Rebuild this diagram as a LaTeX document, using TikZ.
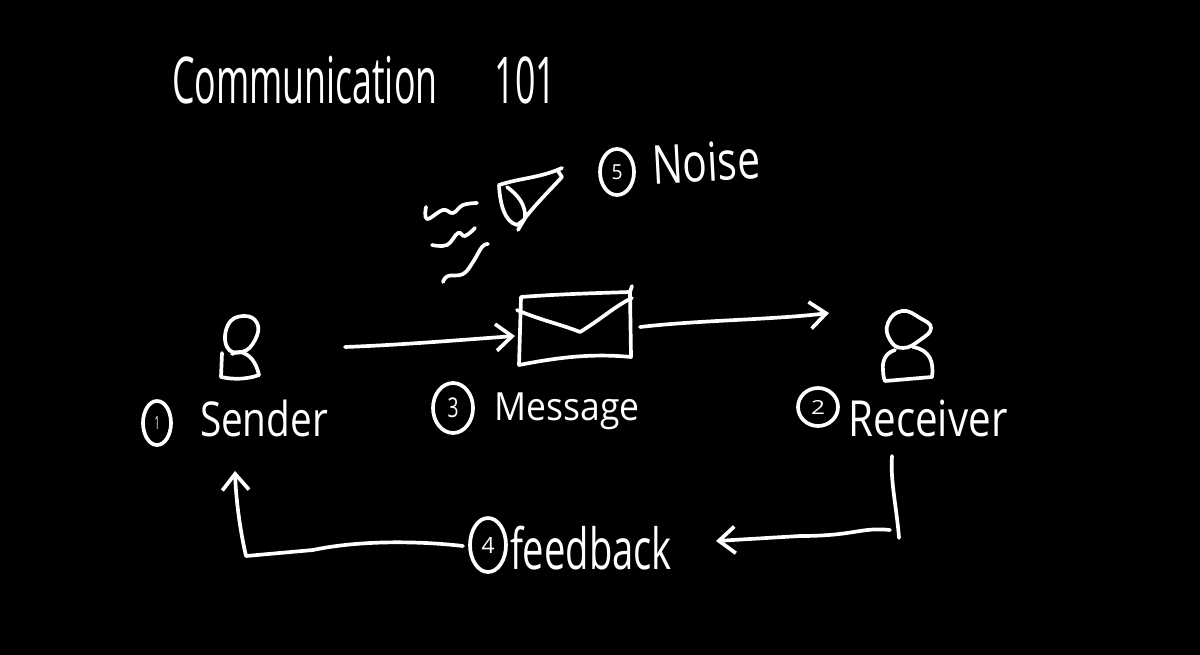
\documentclass[tikz,border=0pt]{standalone}
\usepackage{graphicx}
\usepackage{fontspec}
\setmainfont{Open Sans}
\usetikzlibrary{arrows.meta,shapes.geometric}
\newcommand{\hand}[3]{\resizebox*{#1\dimexpr 0.1mm\relax}{#2\dimexpr 0.1mm\relax}{#3}}
\tikzset{
  ink/.style={draw=white,line width=1.05pt,line cap=round,line join=round},
  tip/.style={-{Straight Barb[length=4.6pt,width=7.6pt,line width=1.05pt]}},
  label/.style={text=white,inner sep=0pt},
  badge/.style={ellipse,draw=white,line width=1.05pt,text=white,inner sep=0pt}
}
\begin{document}
\begin{tikzpicture}[x=0.1mm,y=-0.1mm]
\useasboundingbox (0,0) rectangle (1200,655);
\fill[black] (0,0) rectangle (1200,655);

% title and labels
\node[label] (title) at (364,80) {\hand{384}{48}{Communication\hspace{1.6em}101}};
\node[label] (sender) at (264,418) {\hand{128}{37}{Sender}};
\node[label] (message) at (567,411) {\hand{145}{37}{Message}};
\node[label] (receiver) at (928,418) {\hand{159}{37}{Receiver}};
\node[label] (feedback) at (591,548) {\hand{162}{44}{feedback}};
\node[label,rotate=3] (noise) at (706,162) {\hand{108}{40}{Noise}};

% numbered badges
\node[badge,minimum width=2.8mm,minimum height=4.4mm] (c1) at (157,423) {\hand{5}{13}{1}};
\node[badge,minimum width=4.0mm,minimum height=5.0mm] (c3) at (453,408) {\hand{11}{20}{3}};
\node[badge,minimum width=4.0mm,minimum height=3.8mm] (c2) at (818,407) {\hand{14}{14}{2}};
\node[badge,minimum width=3.6mm,minimum height=5.4mm] (c4) at (488,545) {\hand{13}{16}{4}};
\node[badge,minimum width=3.4mm,minimum height=4.6mm] (c5) at (617,172) {\hand{11}{15}{5}};

% sender figure
\draw[ink] plot[smooth cycle,tension=0.8] coordinates {(227,347) (228,325) (243,316) (257,323) (255,340) (242,352)};
\draw[ink] (222,353) -- (221,377) .. controls (235,380) and (248,379) .. (259,375);
\draw[ink] (259,375) .. controls (256,362) and (250,354) .. (240,352) .. controls (236,352) and (234,353) .. (232,354);

% receiver figure
\draw[ink] plot[smooth cycle,tension=0.8] coordinates {(890,340) (888,323) (902,311) (920,318) (931,328) (920,340) (903,348)};
\draw[ink] (895,350) .. controls (885,353) and (882,362) .. (883,370) .. controls (883,375) and (884,379) .. (885,381) -- (932,377) .. controls (934,362) and (930,350) .. (913,347);

% envelope
\draw[ink] (521,297) .. controls (560,294) and (600,293) .. (630,292) -- (631,357) .. controls (590,353) and (555,358) .. (519,365) -- cycle;
\draw[ink] (517,310) .. controls (540,320) and (560,324) .. (580,332) .. controls (600,320) and (615,306) .. (632,298);
\draw[ink] (630,292) -- (632,286);

% megaphone
\draw[ink] (499,185) .. controls (520,178) and (540,178) .. (562,168);
\draw[ink] (558,171) -- (562,177) .. controls (550,190) and (535,205) .. (525,218) -- (518,230);
\draw[ink] (499,185) .. controls (500,205) and (505,222) .. (517,225) -- (524,220);
\draw[ink] (507,187) .. controls (518,195) and (526,205) .. (525,218);

% noise squiggles
\draw[ink] plot[smooth,tension=0.7] coordinates {(426,207) (427,219) (443,210) (453,213) (463,205) (477,203)};
\draw[ink] plot[smooth,tension=0.7] coordinates {(432,245) (447,245) (458,233) (465,236) (475,228)};
\draw[ink] plot[smooth,tension=0.7] coordinates {(443,282) (448,276) (463,274) (473,262) (482,247) (488,244)};

% connectors
\coordinate (senderOut) at (345,347);
\coordinate (msgIn) at (515,336);
\coordinate (msgOut) at (640,327);
\coordinate (recvIn) at (829,313);
\coordinate (recvDown) at (892,456);
\coordinate (corner) at (899,538);
\coordinate (fbStart) at (890,530);
\coordinate (fbIn) at (716,541);
\coordinate (fbOut) at (463,546);
\coordinate (loop) at (246,556);
\coordinate (senderIn) at (235,471);

\draw[ink,tip] (senderOut) .. controls (400,345) and (460,340) .. (msgIn);
\draw[ink,tip] (msgOut) .. controls (700,320) and (770,320) .. (recvIn);
\draw[ink] (recvDown) .. controls (890,480) and (897,510) .. (corner);
\draw[ink,tip] (fbStart) .. controls (860,527) and (855,536) .. (800,536) -- (fbIn);
\draw[ink,tip] (fbOut) .. controls (420,541) and (360,540) .. (313,550) -- (loop) .. controls (240,530) and (236,500) .. (senderIn);
\end{tikzpicture}
\end{document}
